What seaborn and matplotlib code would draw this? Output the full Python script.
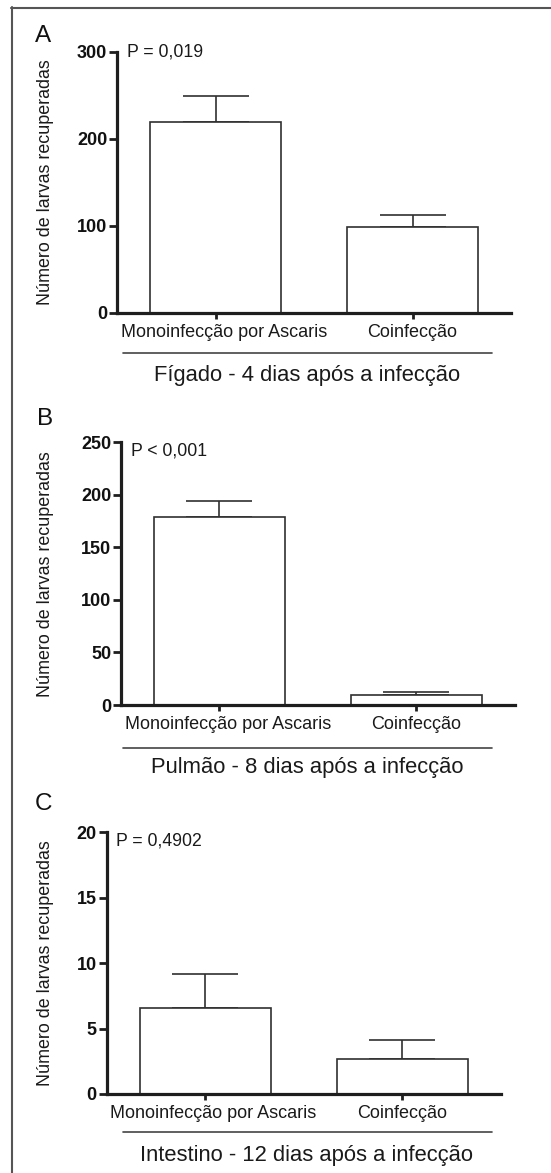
import matplotlib
matplotlib.use("Agg")
import matplotlib.pyplot as plt
from matplotlib.lines import Line2D
import matplotlib.transforms as mtransforms
import seaborn as sns
import pandas as pd

# ---- data ----
grupos = ["Monoinfecção por Ascaris", "Coinfecção"]

media_figado = [220, 99]
sem_figado = [29, 14]

media_pulmao = [179, 9.5]
sem_pulmao = [15.5, 3.2]

media_intestino = [6.55, 2.65]
sem_intestino = [2.62, 1.48]

letras = ["A", "B", "C"]
titulos = ["Fígado - 4 dias após a infecção",
           "Pulmão - 8 dias após a infecção",
           "Intestino - 12 dias após a infecção"]
p_textos = ["P = 0,019", "P < 0,001", "P = 0,4902"]
ymax = [300, 250, 20]
yticks = [[0, 100, 200, 300], [0, 50, 100, 150, 200, 250], [0, 5, 10, 15, 20]]
ylabel = "Número de larvas recuperadas"

# ---- style ----
sns.set_style("white")
plt.rcParams["font.family"] = ["Liberation Sans", "DejaVu Sans"]

W, H = 551, 1173
fig = plt.figure(figsize=(W / 100, H / 100), dpi=100)

def fx(x):
    return x / W

def fy(y):
    return 1 - y / H

# axes boxes in pixels: left, top, right, bottom
boxes = [(117, 52, 511, 312.7),
         (121, 442.3, 514.8, 705),
         (106.5, 832.3, 500.7, 1094)]
letter_pos = [(35, 42), (37, 425), (35, 810)]
p_pos = [(126.7, 56.3), (130.7, 456), (116, 845)]
under_y = [352.5, 747.7, 1132.3]
title_y = [376, 768, 1155]

medias = [media_figado, media_pulmao, media_intestino]
sems = [sem_figado, sem_pulmao, sem_intestino]

dark = "#1e1e1e"
edge = "#303030"

for i in range(3):
    l, t, r, b = boxes[i]
    ax = fig.add_axes([fx(l), fy(b), (r - l) / W, (b - t) / H])
    df = pd.DataFrame({"grupo": grupos, "media": medias[i], "sem": sems[i]})
    sns.barplot(data=df, x="grupo", y="media", ax=ax, width=0.665,
                color="white", edgecolor=edge, linewidth=1.2, errorbar=None,
                saturation=1)
    ax.errorbar(x=[0, 1], y=df["media"], yerr=[[0, 0], df["sem"]], fmt="none",
                ecolor=edge, elinewidth=1.2, capsize=23.7, capthick=1.2, zorder=0.5)
    ax.set_xlim(-0.5, 1.5)
    ax.set_ylim(0, ymax[i])
    ax.set_yticks(yticks[i])
    ax.set_xlabel("")
    ax.set_ylabel(ylabel, fontsize=12.9, color="#1a1a1a", va="center")
    ax.yaxis.set_label_coords((45.7 - l) / (r - l), 0.5)
    for s in ["top", "right"]:
        ax.spines[s].set_visible(False)
    for s in ["left", "bottom"]:
        ax.spines[s].set_color(dark)
        ax.spines[s].set_linewidth(2.3)
    ax.tick_params(axis="y", direction="out", length=6, width=2.0, color=dark,
                   pad=1, labelsize=13, left=True)
    ax.tick_params(axis="x", direction="out", length=4.5, width=2.0, color=dark,
                   pad=3.5, labelsize=13, bottom=True)
    for lab in ax.get_yticklabels():
        lab.set_fontweight("bold")
        lab.set_color("#111111")
    xlabs = ax.get_xticklabels()
    for lab in xlabs:
        lab.set_color("#1a1a1a")
    # first category label sits slightly right of its tick in the original
    off = mtransforms.ScaledTranslation(8.5 / 100, 0, fig.dpi_scale_trans)
    xlabs[0].set_transform(xlabs[0].get_transform() + off)
    ax.patch.set_alpha(0)

    fig.text(fx(letter_pos[i][0]), fy(letter_pos[i][1]), letras[i], fontsize=17.5,
             va="baseline", ha="left", color="#111111")
    fig.text(fx(p_pos[i][0]), fy(p_pos[i][1]), p_textos[i], fontsize=12.7,
             va="baseline", ha="left", color="#1a1a1a")
    fig.add_artist(Line2D([fx(123), fx(492)], [fy(under_y[i])] * 2,
                          transform=fig.transFigure, color="#444444", lw=1.2))
    fig.text(fx(307), fy(title_y[i]), titulos[i], fontsize=15.8,
             ha="center", va="center", color="#1a1a1a")

# outer frame (top and left edges)
fig.add_artist(Line2D([fx(11), fx(551)], [fy(7.5), fy(7.5)],
                      transform=fig.transFigure, color="#555555", lw=1.5))
fig.add_artist(Line2D([fx(12), fx(12)], [fy(7), fy(1173)],
                      transform=fig.transFigure, color="#555555", lw=1.5))

fig.savefig("out.png", dpi=100)
